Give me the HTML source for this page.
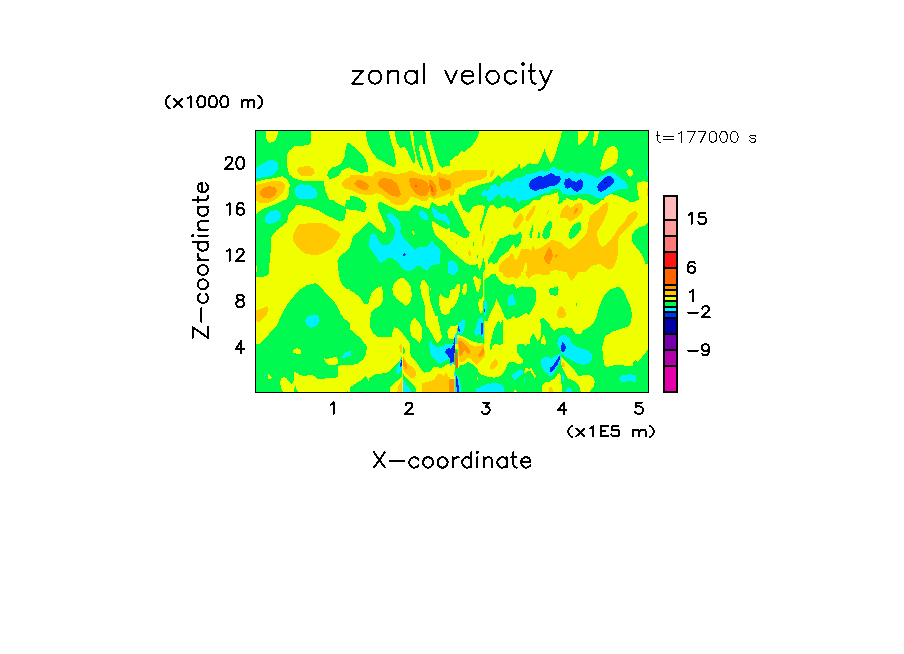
<!DOCTYPE html>
<html><head><meta charset="utf-8"><title>zonal velocity</title>
<style>html,body{margin:0;padding:0;background:#fff;font-family:"Liberation Sans",sans-serif}svg{display:block}</style></head><body>
<svg width="904" height="654" viewBox="0 0 904 654" shape-rendering="crispEdges">
<rect x="0" y="0" width="904" height="654" fill="#fff"/>
<defs>
<clipPath id="c0"><rect x="255.00" y="130.00" width="95.00" height="70.00"/></clipPath>
<clipPath id="c1"><rect x="350.00" y="130.00" width="100.00" height="70.00"/></clipPath>
<clipPath id="c2"><rect x="450.00" y="130.00" width="100.00" height="70.00"/></clipPath>
<clipPath id="c3"><rect x="550.00" y="130.00" width="99.00" height="70.00"/></clipPath>
<clipPath id="c4"><rect x="255.00" y="200.00" width="95.00" height="72.00"/></clipPath>
<clipPath id="c5"><rect x="350.00" y="200.00" width="100.00" height="72.00"/></clipPath>
<clipPath id="c6"><rect x="450.00" y="200.00" width="100.00" height="72.00"/></clipPath>
<clipPath id="c7"><rect x="550.00" y="200.00" width="99.00" height="72.00"/></clipPath>
<clipPath id="c8"><rect x="255.00" y="272.00" width="95.00" height="72.00"/></clipPath>
<clipPath id="c9"><rect x="350.00" y="272.00" width="100.00" height="72.00"/></clipPath>
<clipPath id="c10"><rect x="450.00" y="272.00" width="34.30" height="72.00"/></clipPath>
<clipPath id="c11"><rect x="484.30" y="272.00" width="65.70" height="72.00"/></clipPath>
<clipPath id="c12"><rect x="550.00" y="272.00" width="99.00" height="72.00"/></clipPath>
<clipPath id="c13"><rect x="255.00" y="344.00" width="95.00" height="49.00"/></clipPath>
<clipPath id="c14"><rect x="350.00" y="344.00" width="100.00" height="49.00"/></clipPath>
<clipPath id="c15"><rect x="450.00" y="344.00" width="100.00" height="49.00"/></clipPath>
<clipPath id="c16"><rect x="550.00" y="344.00" width="99.00" height="49.00"/></clipPath>
</defs>
<rect x="255" y="130" width="394" height="263" fill="#00fa50"/>
<g clip-path="url(#c0)">
<rect x="255.00" y="130.00" width="95.00" height="70.00" fill="#00fa50"/>
<polygon fill="#f0ff00" points="265.5,130.2 277.7,130.2 277.7,134.6 276.0,139.1 273.2,142.4 268.8,142.6 266.6,139.6 266.0,134.6"/>
<polygon fill="#f0ff00" points="311.2,130.2 311.2,141.3 309.2,145.1 294.2,146.3 288.7,151.2 286.5,156.8 287.1,166.7 289.3,174.5 294.2,178.3 303.1,180.9 313.1,181.3 323.6,181.1 325.2,189.9 329.6,201.0 350.7,201.0 350.7,166.9 346.2,168.4 341.8,170.6 338.5,175.6 334.1,178.3 329.6,178.7 327.2,175.6 328.0,171.1 331.9,167.3 337.4,166.2 341.3,163.4 344.6,156.8 345.4,150.1 347.3,143.5 350.7,142.4 350.7,130.2"/>
<polygon fill="#f0ff00" points="254.4,182.2 265.5,179.4 276.5,177.8 282.1,176.1 287.1,179.4 289.6,184.4 289.3,193.3 285.4,201.0 254.4,201.0"/>
<polygon fill="#ffc800" points="254.4,185.5 263.3,183.3 272.1,181.1 279.9,181.1 284.3,183.3 285.4,187.7 282.1,193.3 276.5,198.8 272.1,201.0 254.4,201.0"/>
<polygon fill="#ff9600" points="260.5,191.1 264.4,187.7 269.9,186.1 275.4,187.7 277.1,191.1 274.9,195.5 268.8,198.6 263.3,198.2 260.2,194.9"/>
<polygon fill="#ffc800" points="297.0,169.5 299.8,166.7 309.7,166.2 314.2,169.5 314.7,172.8 311.9,176.1 303.1,176.5 298.7,173.9"/>
<polygon fill="#ffc800" points="350.7,177.2 346.2,178.3 342.4,182.2 342.4,185.5 345.1,188.6 350.7,189.9"/>
<polygon fill="#00f0ff" points="254.4,168.9 261.1,164.5 268.8,160.3 273.8,160.3 277.7,163.4 277.9,169.5 274.3,173.9 266.6,177.2 254.4,178.0"/>
<polygon fill="#00f0ff" points="294.8,189.9 296.5,186.1 300.9,184.2 309.7,185.3 315.3,188.8 317.7,193.8 316.4,197.7 311.9,198.8 299.8,198.8 295.9,195.5"/>
</g>
<g clip-path="url(#c1)">
<rect x="350.00" y="130.00" width="100.00" height="70.00" fill="#f0ff00"/>
<polygon fill="#00fa50" points="348.9,143.5 354.4,146.8 361.1,153.4 365.5,159.0 367.7,165.6 367.7,172.2 361.1,172.8 354.4,170.0 348.9,167.8"/>
<polygon fill="#00fa50" points="366.0,130.2 388.7,130.2 390.4,139.1 393.1,147.9 395.4,156.8 395.9,164.5 394.2,167.8 390.9,166.2 384.3,162.3 377.7,159.0 372.1,152.3 368.3,144.6 366.6,138.0"/>
<polygon fill="#00fa50" points="394.8,130.2 410.3,130.2 410.6,136.8 412.5,145.7 414.7,154.5 415.3,163.4 413.1,162.8 409.7,156.8 407.0,150.1 404.2,146.8 400.3,147.9 397.0,143.5 395.4,136.8"/>
<polygon fill="#00fa50" points="413.1,130.2 425.2,130.2 427.4,144.6 430.8,156.8 433.0,165.6 432.7,172.2 431.3,172.8 427.4,161.2 424.1,151.2 421.9,145.7 420.2,144.4 419.1,146.3 419.7,153.4 421.3,161.2 423.0,167.8 422.5,170.0 419.7,165.6 416.9,157.9 415.0,150.1 413.9,141.3"/>
<polygon fill="#00fa50" points="429.9,130.2 450.7,130.2 450.7,165.6 446.2,166.2 441.8,167.8 438.5,163.4 435.7,154.5 433.0,144.6 430.8,136.8"/>
<polygon fill="#00fa50" points="348.9,196.0 356.6,196.6 361.1,199.3 362.2,201.0 348.9,201.0"/>
<polygon fill="#ffc800" points="348.9,175.6 356.6,174.5 363.3,175.6 372.1,176.7 375.4,172.2 379.9,171.1 388.7,172.2 396.5,174.5 400.9,173.4 407.5,172.2 410.3,170.0 415.3,172.2 420.8,174.5 426.3,175.6 429.6,174.5 431.9,176.7 436.3,175.6 437.9,171.7 441.8,173.4 447.3,174.5 450.7,175.0 450.7,192.7 447.3,194.4 441.8,196.6 434.1,199.3 429.6,196.6 426.3,201.6 416.4,198.2 410.3,196.6 408.6,201.0 402.0,204.9 396.5,204.9 389.8,201.6 383.2,195.5 376.5,192.7 372.1,194.9 361.1,194.4 350.0,189.9 348.9,189.7"/>
<polygon fill="#ff9600" points="354.2,183.3 356.6,180.5 361.1,180.0 365.5,182.2 368.8,185.5 368.3,188.8 365.5,190.5 361.1,189.4 356.6,186.6"/>
<polygon fill="#ff9600" points="378.2,183.3 379.9,178.9 384.3,178.0 392.0,179.4 396.5,183.3 399.2,188.8 400.9,194.4 398.7,197.1 393.1,196.0 387.6,193.3 382.1,188.8 379.0,186.6"/>
<polygon fill="#ff9600" points="409.7,178.3 416.4,178.3 421.9,179.4 427.4,182.2 428.5,185.5 429.1,191.1 426.3,195.5 421.9,196.6 417.5,194.9 413.6,191.1 410.3,185.5 409.2,181.1"/>
<polygon fill="#ff9600" points="428.5,179.4 431.3,180.0 435.2,184.4 436.8,189.9 436.3,194.4 433.5,197.1 431.3,194.4 429.6,189.9 428.8,184.4"/>
<polygon fill="#ff6400" points="415.3,185.0 416.9,185.0 416.9,186.6 415.3,186.6"/>
<polygon fill="#ff6400" points="430.2,184.4 432.4,186.6 433.8,191.6 432.4,192.2 430.8,189.4"/>
<polygon fill="#ff9600" points="438.5,177.2 441.8,177.8 447.3,180.0 450.7,180.5 450.7,188.8 446.2,189.9 442.9,191.6 440.2,188.3 438.5,183.3"/>
</g>
<g clip-path="url(#c2)">
<rect x="450.00" y="130.00" width="100.00" height="70.00" fill="#f0ff00"/>
<polygon fill="#00fa50" points="448.9,130.2 479.3,130.2 478.2,135.7 475.4,141.3 471.0,146.3 466.6,150.1 464.4,151.8 461.1,151.2 457.7,155.7 454.4,156.8 451.7,160.1 448.9,159.0"/>
<polygon fill="#00fa50" points="458.8,201.0 459.4,194.4 464.4,195.5 467.7,189.9 474.3,186.6 483.2,183.9 490.9,182.2 494.2,178.9 498.1,175.0 502.0,178.3 506.4,174.5 510.8,171.1 516.4,167.8 519.7,164.0 520.8,169.5 525.2,166.2 529.6,162.8 534.1,164.5 537.9,164.0 540.7,159.0 544.6,149.0 547.3,156.8 550.7,163.4 550.7,201.0"/>
<polygon fill="#00f0ff" points="481.0,194.4 484.3,189.4 487.6,191.1 490.9,185.5 495.4,183.9 498.7,187.7 502.0,183.3 507.5,181.1 510.8,182.2 515.3,178.3 520.8,177.8 526.3,174.5 531.9,173.4 537.4,172.2 540.7,170.0 544.0,171.7 550.7,170.6 550.7,192.2 545.1,193.3 538.5,195.5 534.1,197.1 529.6,198.8 527.4,201.0 516.4,201.0 516.4,196.6 511.9,198.8 507.5,194.9 503.1,198.8 498.7,193.8 494.2,198.8 492.0,201.0 486.5,201.0 486.5,196.0 483.2,196.6"/>
<polygon fill="#0028f0" points="529.1,183.3 531.9,179.4 538.5,176.1 544.0,176.7 550.7,173.4 550.7,185.5 546.2,188.3 540.7,188.8 535.2,191.1 529.6,188.3"/>
<polygon fill="#f0ff00" points="538.5,201.0 541.8,197.1 546.2,194.9 550.7,194.4 550.7,201.0"/>
<polygon fill="#ffc800" points="448.9,174.5 454.4,171.7 464.4,170.0 475.4,169.8 486.5,170.0 487.1,175.6 482.1,179.4 472.1,181.1 464.4,183.3 461.1,186.6 455.5,188.3 453.9,194.4 451.1,196.0 448.9,195.5"/>
<polygon fill="#ffc800" points="490.0,173.4 492.6,170.0 494.0,170.6 493.4,174.5 490.9,177.8 490.0,176.7"/>
<polygon fill="#ff9600" points="448.9,181.1 451.1,182.2 451.3,187.7 448.9,188.8"/>
</g>
<g clip-path="url(#c3)">
<rect x="550.00" y="130.00" width="99.00" height="70.00" fill="#00fa50"/>
<polygon fill="#f0ff00" points="548.9,130.2 562.2,130.2 560.5,138.0 557.7,146.8 555.0,155.7 551.7,162.3 548.9,163.4"/>
<polygon fill="#f0ff00" points="578.2,130.2 588.9,130.2 588.2,134.6 584.3,140.7 579.3,145.1 578.2,144.6"/>
<polygon fill="#f0ff00" points="594.2,130.2 599.0,130.2 598.1,138.0 595.9,144.6 593.7,147.0 592.9,143.5"/>
<polygon fill="#f0ff00" points="607.5,148.5 611.4,146.3 615.3,146.3 617.7,150.1 618.0,156.8 616.9,162.3 611.9,166.7 606.4,169.5 603.1,171.1 600.3,168.9 600.9,163.4 603.1,156.8 605.3,151.2"/>
<polygon fill="#f0ff00" points="626.3,171.7 628.0,169.5 630.8,169.2 633.0,171.7 632.7,175.0 630.8,176.9 628.0,175.6"/>
<polygon fill="#f0ff00" points="637.4,183.3 639.6,181.7 644.0,181.3 648.5,182.2 648.5,201.0 639.6,201.0 637.9,193.3 637.2,187.7"/>
<polygon fill="#ffc800" points="647.1,187.7 648.5,187.7 648.5,195.5 647.1,195.5"/>
<polygon fill="#f0ff00" points="548.9,195.5 554.4,193.3 558.3,192.2 558.8,201.0 548.9,201.0"/>
<polygon fill="#f0ff00" points="564.4,201.0 566.6,198.2 569.4,198.8 571.0,201.0"/>
<polygon fill="#f0ff00" points="575.4,201.0 578.2,198.2 582.1,198.8 583.2,201.0"/>
<polygon fill="#f0ff00" points="603.1,201.0 605.3,196.6 610.3,194.2 615.3,194.9 620.8,197.1 626.3,199.3 627.4,201.0"/>
<polygon fill="#00f0ff" points="548.9,168.9 553.9,166.9 557.7,169.5 562.2,170.0 566.6,173.4 572.1,171.1 576.5,173.9 583.2,172.2 587.6,174.5 593.1,175.6 597.6,178.3 603.1,175.6 609.7,172.2 614.2,172.8 618.6,176.7 623.0,180.0 626.3,183.3 628.0,186.6 627.4,188.8 620.8,189.4 616.4,190.5 611.9,192.7 606.4,196.0 602.0,198.8 596.5,197.7 592.0,194.9 585.4,193.8 577.7,194.4 572.1,195.5 566.6,194.4 562.2,194.4 561.1,189.9 556.6,188.3 548.9,189.9"/>
<polygon fill="#00f0ff" points="646.5,170.6 647.9,170.0 647.9,176.7 646.5,175.6"/>
<polygon fill="#0028f0" points="548.9,173.4 552.2,173.4 555.5,175.6 560.0,175.6 560.8,180.0 558.8,183.3 555.5,185.5 548.9,186.1"/>
<polygon fill="#0028f0" points="564.2,183.3 565.5,179.4 569.4,177.8 572.7,181.1 576.5,181.7 580.4,179.1 583.0,181.1 583.2,185.5 581.0,189.4 576.5,192.2 573.2,189.9 571.0,187.2 567.7,188.8 564.9,187.7"/>
<polygon fill="#0028f0" points="597.0,186.6 599.8,182.2 604.2,178.3 607.5,176.1 610.8,176.1 613.9,179.4 613.6,183.3 609.7,186.6 605.3,189.9 600.9,192.2 598.1,190.5"/>
<polygon fill="#0000aa" points="603.7,182.2 607.0,181.9 605.9,183.3 604.2,183.9"/>
</g>
<g clip-path="url(#c4)">
<rect x="255.00" y="200.00" width="95.00" height="72.00" fill="#f0ff00"/>
<polygon fill="#00fa50" points="254.4,216.6 256.9,213.8 261.1,210.0 268.8,206.6 276.5,203.9 283.2,200.6 284.3,198.9 331.9,198.9 337.4,203.3 345.1,207.2 346.2,198.9 350.7,198.9 350.7,210.0 347.3,208.8 345.7,208.3 345.4,217.7 343.5,220.5 338.5,220.5 331.9,217.7 325.2,214.4 318.6,210.5 309.7,207.2 302.0,205.5 296.5,205.0 292.6,210.0 288.7,214.4 287.1,222.1 283.2,225.4 276.5,230.4 271.6,236.5 270.5,244.2 270.5,253.1 269.4,264.2 268.8,273.0 254.4,273.0"/>
<polygon fill="#00fa50" points="350.7,246.5 345.1,252.0 339.6,257.0 337.4,260.8 337.9,267.5 339.0,273.0 350.7,273.0"/>
<polygon fill="#f0ff00" points="254.4,265.3 256.9,266.4 257.5,273.0 254.4,273.0"/>
<polygon fill="#00f0ff" points="264.9,218.8 266.6,214.4 271.0,211.1 276.5,210.0 280.4,212.2 281.0,216.6 278.8,220.5 273.2,223.2 268.3,223.8 265.5,222.1"/>
<polygon fill="#ffc800" points="292.6,236.5 295.4,229.9 298.7,224.3 309.7,223.2 320.8,223.0 326.3,224.3 331.9,228.2 338.5,231.5 340.9,234.3 338.5,238.7 335.2,244.2 331.9,248.7 325.2,252.0 317.5,255.3 314.2,255.3 305.3,253.7 299.8,249.8 295.4,244.2 293.1,239.8"/>
<polygon fill="#ffc800" points="254.4,198.9 275.4,198.9 272.1,201.7 265.5,203.3 260.0,203.1 256.9,201.1"/>
</g>
<g clip-path="url(#c5)">
<rect x="350.00" y="200.00" width="100.00" height="72.00" fill="#00fa50"/>
<polygon fill="#f0ff00" points="348.9,210.0 356.6,210.5 364.4,212.2 366.6,207.7 365.5,203.3 362.2,198.9 450.7,198.9 450.7,203.3 448.5,203.3 447.3,206.6 444.0,204.4 440.7,206.1 437.4,205.5 434.1,203.3 431.9,202.2 430.2,205.5 429.1,209.4 421.9,206.6 414.2,205.0 411.9,207.7 409.7,210.5 398.7,211.1 392.0,207.7 384.3,203.9 379.9,201.7 377.7,204.4 378.8,210.0 382.1,217.7 385.4,225.4 386.0,232.1 383.2,232.6 377.7,228.8 372.1,223.8 368.8,222.1 365.5,225.4 361.1,229.9 356.6,233.2 352.8,236.5 351.1,244.2 348.9,245.4"/>
<polygon fill="#f0ff00" points="432.4,221.0 437.4,224.3 445.1,228.8 450.7,228.2 450.7,249.8 447.3,246.5 444.0,241.8 440.2,239.8 436.3,236.0 434.1,232.1 432.4,226.5"/>
<polygon fill="#f0ff00" points="411.9,231.5 413.6,231.0 414.7,233.7 413.6,234.8"/>
<polygon fill="#ffc800" points="388.2,198.9 408.6,198.9 407.5,202.2 403.1,205.0 397.6,205.5 392.0,203.3"/>
<polygon fill="#ffc800" points="415.3,198.9 427.4,198.9 426.3,201.5 421.9,200.6 416.4,199.4"/>
<polygon fill="#00f0ff" points="368.8,242.0 370.5,235.4 373.2,233.2 376.5,236.5 378.8,240.9 383.2,245.4 389.8,244.2 393.1,238.7 395.4,233.2 394.8,227.7 390.9,222.1 387.6,217.7 387.1,213.8 390.9,213.1 395.4,216.6 399.8,222.1 400.9,227.7 400.3,232.1 403.1,237.6 407.5,242.0 413.1,247.6 415.3,249.8 418.6,247.0 427.4,246.5 430.8,243.1 431.9,239.8 434.1,244.2 438.5,247.6 440.7,250.9 440.2,257.5 439.6,264.2 434.1,264.7 429.6,266.4 427.4,270.8 424.1,269.1 420.8,266.4 416.4,266.4 414.2,269.1 409.7,271.3 405.3,270.2 400.9,266.4 397.6,261.9 393.1,258.6 388.7,257.5 384.3,260.8 381.0,263.6 378.8,261.9 375.4,255.3 371.0,249.8 369.0,246.5"/>
<polygon fill="#00f0ff" points="419.1,213.3 420.8,210.0 424.1,211.1 427.4,215.5 428.0,219.9 425.2,220.5 421.9,218.3 419.7,215.5"/>
<polygon fill="#00f0ff" points="432.4,207.2 436.3,210.0 440.7,214.4 445.1,213.3 448.5,218.8 450.7,221.0 450.7,226.0 447.3,224.3 444.0,221.0 438.5,219.9 434.1,216.6 432.4,212.2"/>
<polygon fill="#00f0ff" points="448.2,261.9 450.7,260.8 450.7,273.0 448.2,273.0"/>
<polygon fill="#0028f0" points="402.9,254.2 404.2,252.9 405.9,254.2 405.1,256.4 403.7,256.6"/>
</g>
<g clip-path="url(#c6)">
<rect x="450.00" y="200.00" width="100.00" height="72.00" fill="#f0ff00"/>
<polygon fill="#00fa50" points="448.9,200.6 451.7,201.1 455.5,207.7 459.4,214.4 462.2,219.9 463.8,224.9 466.6,229.0 469.7,232.3 469.0,236.5 464.9,238.2 459.4,235.6 453.9,232.3 448.9,231.5"/>
<polygon fill="#00fa50" points="458.8,198.9 534.1,198.9 530.8,203.3 525.2,206.6 518.6,210.5 514.2,212.7 511.9,207.7 507.5,207.2 504.2,205.0 500.9,207.7 497.6,208.8 493.1,204.4 489.8,205.5 487.6,210.0 485.4,216.6 483.2,223.2 481.0,229.9 479.9,232.6 479.6,227.7 481.5,221.0 483.7,214.4 484.8,206.6 482.6,205.0 476.5,205.5 472.1,207.7 469.4,212.7 466.6,212.2 463.3,209.4 461.1,204.4"/>
<polygon fill="#00fa50" points="488.2,259.7 490.4,255.3 493.1,252.0 495.4,247.6 497.6,242.0 499.8,238.7 505.3,237.1 509.7,234.3 511.9,235.4 515.3,235.4 518.6,232.6 521.3,232.1 521.9,236.5 520.8,242.0 518.0,247.0 515.3,247.6 513.6,243.7 511.4,246.5 508.6,250.9 504.2,254.2 499.8,257.5 497.6,261.9 494.2,264.2 490.9,261.9 488.7,264.2 487.6,261.9"/>
<polygon fill="#00fa50" points="529.4,234.3 530.8,229.9 532.4,224.9 533.2,226.5 532.4,233.2 531.3,238.7 529.9,238.2"/>
<polygon fill="#00fa50" points="537.4,237.6 538.3,232.1 539.6,233.2 539.8,237.6 538.5,238.2"/>
<polygon fill="#00fa50" points="542.4,234.3 544.0,228.8 547.3,223.2 550.7,219.9 550.7,233.2 548.5,237.6 545.1,239.3 542.7,237.6"/>
<polygon fill="#00fa50" points="448.9,248.7 453.3,252.5 458.8,257.5 463.3,260.8 467.7,264.2 473.2,265.3 477.7,264.2 479.0,270.8 481.0,267.5 483.2,257.5 484.3,258.6 484.8,266.4 484.3,273.0 448.9,273.0"/>
<polygon fill="#00fa50" points="473.0,242.0 474.1,242.0 474.1,245.9 473.0,245.9"/>
<polygon fill="#00fa50" points="477.1,254.8 478.2,254.8 478.2,258.1 477.1,258.1"/>
<polygon fill="#00f0ff" points="448.9,260.8 452.2,260.3 456.1,263.1 458.0,267.5 457.7,273.0 448.9,273.0"/>
<polygon fill="#00f0ff" points="487.1,198.9 490.9,198.9 490.4,201.3 488.2,201.7"/>
<polygon fill="#00f0ff" points="517.3,198.9 520.8,198.9 520.2,202.8 517.7,203.3"/>
<polygon fill="#ffc800" points="513.6,222.1 516.4,217.7 520.2,213.3 523.0,214.9 523.6,218.8 520.8,223.2 517.5,228.2 515.3,229.3 513.3,226.5"/>
<polygon fill="#ffc800" points="525.8,216.6 529.6,211.1 534.1,205.5 535.7,206.1 534.6,211.1 531.3,216.6 528.0,221.6 525.8,220.5"/>
<polygon fill="#ffc800" points="546.2,214.4 548.5,210.0 549.0,211.1 547.3,214.9"/>
<polygon fill="#ffc800" points="498.7,266.4 502.0,261.9 507.5,257.5 511.9,253.1 513.6,255.3 515.3,259.7 517.5,258.6 519.7,253.1 521.9,248.7 527.4,248.7 530.8,250.9 533.0,245.4 535.2,249.8 538.5,248.7 542.9,246.5 547.3,243.1 550.7,240.9 550.7,273.0 526.3,273.0 526.9,266.4 526.3,261.4 524.1,265.3 523.0,273.0 499.8,273.0 498.5,269.7"/>
<polygon fill="#ff9600" points="544.0,257.5 546.2,252.0 549.0,247.6 550.7,246.5 550.7,264.2 547.3,264.2 544.9,261.4"/>
<polygon fill="#ffc800" points="481.5,244.2 483.2,236.5 484.8,233.2 485.2,237.6 483.7,244.2 482.3,247.6"/>
<polygon fill="#ffc800" points="468.3,252.0 469.7,249.2 471.0,253.1 470.5,256.4 468.8,255.9"/>
<polygon fill="#ffc800" points="456.1,241.5 457.5,242.6 457.2,244.8 456.1,244.2"/>
<polygon fill="#ffc800" points="491.2,242.6 492.9,240.9 492.6,243.7"/>
</g>
<g clip-path="url(#c7)">
<rect x="550.00" y="200.00" width="99.00" height="72.00" fill="#f0ff00"/>
<polygon fill="#00fa50" points="557.7,203.3 559.4,198.9 564.4,198.9 562.2,202.2 559.4,203.9"/>
<polygon fill="#00fa50" points="571.0,198.9 575.4,198.9 573.8,200.9"/>
<polygon fill="#00fa50" points="584.8,198.9 602.0,198.9 598.7,202.8 594.2,205.0 589.8,203.3"/>
<polygon fill="#00fa50" points="626.3,198.9 638.5,198.9 635.2,201.7 629.6,201.7"/>
<polygon fill="#00fa50" points="548.9,219.9 551.7,222.1 552.0,226.5 550.6,230.4 548.9,231.0"/>
<polygon fill="#00fa50" points="569.0,233.2 570.5,228.8 573.8,224.9 578.2,222.1 581.0,222.7 581.0,228.8 578.2,233.2 574.3,237.6 571.0,238.9 569.0,237.6"/>
<polygon fill="#00fa50" points="631.9,235.4 634.1,231.5 638.5,227.7 644.0,226.0 649.0,222.1 649.0,264.2 645.1,263.6 643.5,257.5 639.6,251.4 634.6,245.4 631.6,240.9"/>
<polygon fill="#ffc800" points="548.9,239.3 554.4,240.4 560.0,242.0 565.5,246.5 568.8,249.2 572.1,247.6 577.7,243.1 583.2,237.6 586.5,233.2 588.2,226.5 588.7,219.9 590.4,215.5 594.2,212.2 598.7,209.4 602.5,205.0 606.4,202.2 608.6,203.3 608.1,208.8 605.9,215.5 603.1,222.1 599.8,227.7 597.0,232.1 597.6,237.6 599.2,243.1 602.0,247.0 605.3,245.4 609.7,240.9 614.2,235.4 616.4,231.0 620.8,225.4 625.2,221.0 628.0,215.5 631.9,212.2 635.7,211.1 637.9,213.8 636.3,218.3 631.9,223.2 627.4,227.7 623.0,232.1 619.7,235.4 618.0,240.9 618.4,248.7 617.5,256.4 615.3,264.2 611.9,268.6 608.6,269.7 604.2,266.9 600.9,264.2 594.2,264.7 589.8,267.5 586.5,271.3 585.4,273.0 565.5,273.0 561.1,270.8 554.4,270.2 548.9,271.9"/>
<polygon fill="#ffc800" points="560.2,215.5 561.6,210.5 565.5,206.1 567.1,204.4 570.5,207.7 573.2,206.1 577.7,202.8 581.5,203.3 583.2,207.2 582.1,212.2 577.7,216.6 573.8,219.9 569.4,221.6 567.1,218.3 563.3,217.7 560.5,217.7"/>
<polygon fill="#ff9600" points="574.1,212.2 575.7,208.8 577.7,208.0 577.9,210.0 576.0,212.7 574.6,213.8"/>
<polygon fill="#ff9600" points="548.9,247.6 551.7,250.3 552.8,255.3 551.7,260.3 548.9,263.1"/>
<polygon fill="#ff9600" points="555.0,255.9 556.6,254.0 558.0,254.8 557.2,257.0 555.5,257.7"/>
</g>
<g clip-path="url(#c8)">
<rect x="255.00" y="272.00" width="95.00" height="72.00" fill="#f0ff00"/>
<polygon fill="#00fa50" points="254.4,270.9 269.4,270.9 268.3,274.8 263.3,277.0 257.2,277.5 254.4,276.4"/>
<polygon fill="#00fa50" points="339.0,270.9 350.7,270.9 350.7,288.6 346.2,288.6 342.4,284.7 339.8,279.7"/>
<polygon fill="#00fa50" points="258.8,345.0 261.1,342.2 266.6,337.3 272.1,330.1 277.1,325.1 280.4,317.4 284.3,309.6 287.6,304.1 294.2,295.8 300.9,289.1 306.4,285.3 315.3,283.3 318.6,284.7 323.0,289.7 327.4,295.2 333.0,300.2 337.4,306.3 340.7,314.0 344.0,318.5 350.7,323.4 350.7,345.0"/>
<polygon fill="#00f0ff" points="305.1,320.7 307.0,316.8 310.8,315.7 314.7,314.3 318.0,315.7 319.7,320.1 318.0,324.5 313.6,327.3 310.3,327.9 307.0,325.1"/>
<polygon fill="#ffc800" points="254.4,310.7 261.1,309.1 266.6,306.1 268.8,309.1 266.6,314.6 262.2,319.6 259.4,321.8 254.4,321.2"/>
</g>
<g clip-path="url(#c9)">
<rect x="350.00" y="272.00" width="100.00" height="72.00" fill="#00fa50"/>
<polygon fill="#f0ff00" points="348.9,289.7 354.4,293.0 360.0,297.4 363.8,303.5 368.3,303.5 369.9,297.4 372.1,291.9 376.5,288.0 381.5,286.2 383.2,291.9 383.2,299.7 379.9,306.3 374.3,309.1 371.0,312.9 370.1,319.6 370.5,328.4 373.2,333.4 377.7,336.7 386.5,337.3 392.0,337.3 392.6,330.6 394.2,327.3 397.6,327.9 402.0,332.8 406.4,338.4 409.7,342.8 410.8,345.0 365.5,345.0 361.1,338.4 355.5,333.9 351.1,330.1 348.9,328.4"/>
<polygon fill="#f0ff00" points="392.3,288.6 394.2,283.1 398.7,278.6 403.1,278.1 407.5,282.0 410.8,286.4 411.7,293.0 411.4,299.7 408.6,304.1 405.3,305.7 400.9,301.9 396.5,298.5 393.1,294.1"/>
<polygon fill="#f0ff00" points="420.2,286.4 421.3,280.8 424.1,279.2 426.3,283.1 428.5,286.4 429.1,294.1 430.8,303.0 433.0,309.6 435.7,316.2 437.4,315.1 438.5,321.8 440.2,329.5 441.8,336.2 441.3,339.5 437.4,342.8 435.2,340.6 431.9,333.9 428.5,328.4 425.8,325.1 425.2,316.2 425.2,307.4 423.6,300.8 421.3,294.1"/>
<polygon fill="#f0ff00" points="439.0,296.3 440.7,294.1 444.0,297.4 448.5,298.0 450.7,290.8 450.7,310.7 448.5,314.0 445.1,315.1 441.3,312.9 439.6,307.4"/>
<polygon fill="#f0ff00" points="410.3,324.0 411.9,320.7 414.7,317.4 417.5,320.7 420.8,325.1 422.5,330.6 421.9,338.4 419.7,342.8 416.4,340.0 413.1,337.3 410.6,335.1"/>
<polygon fill="#f0ff00" points="447.3,331.7 449.0,328.4 450.7,327.9 450.7,339.5 448.5,338.4"/>
<polygon fill="#f0ff00" points="429.6,288.6 430.8,288.0 430.8,289.7 429.6,289.9"/>
<polygon fill="#00f0ff" points="447.9,270.9 450.7,270.9 450.7,273.1 448.5,272.9"/>
<polygon fill="#00f0ff" points="429.1,342.8 430.8,341.1 432.4,342.8 431.9,345.0 429.4,345.0"/>
</g>
<g clip-path="url(#c10)">
<rect x="450.00" y="272.00" width="34.30" height="72.00" fill="#00fa50"/>
<polygon fill="#f0ff00" points="448.9,290.3 455.0,288.6 456.1,285.3 459.4,283.1 460.0,288.6 458.8,296.3 456.6,303.0 453.3,307.4 448.9,309.6"/>
<polygon fill="#f0ff00" points="462.2,290.8 463.3,285.3 466.0,282.2 467.1,286.4 466.6,291.9 464.4,295.2 462.7,294.1"/>
<polygon fill="#f0ff00" points="473.2,278.6 473.8,275.3 476.5,277.0 479.0,279.7 479.9,277.5 481.0,280.8 480.4,286.4 478.2,292.5 476.5,290.8 474.9,285.3"/>
<polygon fill="#f0ff00" points="478.2,303.0 479.3,298.5 482.1,299.7 483.0,294.1 483.2,288.6 483.5,270.9 485.4,270.9 485.4,298.5 483.2,301.9 483.0,310.7 481.0,313.5 479.0,310.2"/>
<polygon fill="#f0ff00" points="448.9,326.2 454.4,326.2 457.7,325.1 457.2,331.7 454.4,338.4 452.2,339.5 448.9,338.4"/>
<polygon fill="#f0ff00" points="457.2,335.1 461.1,335.6 466.6,338.4 472.1,341.1 477.7,342.8 485.4,343.9 485.4,345.0 457.2,345.0"/>
<polygon fill="#ffc800" points="457.2,338.4 460.0,337.3 464.4,339.5 468.8,342.8 469.9,345.0 457.2,345.0"/>
<polygon fill="#ff9600" points="458.3,341.1 462.2,341.1 464.4,345.0 458.3,345.0"/>
<polygon fill="#00f0ff" points="457.7,324.0 461.1,321.8 464.4,318.5 464.9,325.1 463.3,331.7 460.5,335.1 458.3,332.3"/>
<polygon fill="#00f0ff" points="474.3,332.8 476.5,325.1 478.8,318.5 482.1,316.8 483.2,320.7 484.1,338.4 482.1,336.2 478.8,333.9 476.0,336.2"/>
<polygon fill="#00f0ff" points="448.9,270.9 457.7,270.9 454.4,274.8 452.2,275.3 448.9,273.7"/>
<polygon fill="#00f0ff" points="453.9,339.5 455.5,333.9 457.2,332.3 456.9,345.0 453.9,345.0"/>
<polygon fill="#0028f0" points="458.0,326.2 459.1,326.2 460.0,331.7 458.6,331.7"/>
<polygon fill="#0028f0" points="481.0,323.4 482.6,322.9 483.0,333.9 481.5,335.1"/>
<polygon fill="#0028f0" points="453.9,338.4 455.0,337.8 454.6,345.0 453.3,345.0"/>
</g>
<g clip-path="url(#c11)">
<rect x="484.30" y="272.00" width="65.70" height="72.00" fill="#f0ff00"/>
<polygon fill="#00fa50" points="483.2,280.8 487.6,277.5 491.5,273.7 495.4,273.7 497.6,277.5 500.9,281.4 503.1,284.2 509.7,284.7 514.2,284.2 516.4,288.6 521.9,286.4 527.4,286.9 531.9,286.9 535.7,290.3 536.3,296.3 535.2,304.1 531.9,310.7 528.5,315.1 526.3,312.9 524.1,314.0 520.8,316.2 516.4,318.5 513.6,316.2 510.3,319.0 507.5,319.6 504.2,316.2 502.0,310.7 499.8,305.2 496.5,298.5 494.8,304.1 492.0,309.6 489.3,315.1 487.6,320.7 483.2,320.7"/>
<polygon fill="#00fa50" points="490.9,345.0 491.5,339.5 493.1,331.7 496.5,324.0 498.7,320.7 500.3,324.0 503.1,318.5 503.1,345.0"/>
<polygon fill="#00fa50" points="529.6,345.0 530.2,338.4 533.0,333.4 535.2,336.2 537.4,340.6 540.2,338.4 541.3,333.9 540.7,325.1 540.2,319.6 542.9,317.9 546.2,320.7 550.7,325.1 550.7,345.0 546.2,345.0 545.1,337.3 543.5,334.5 541.3,339.5 540.7,345.0"/>
<polygon fill="#00fa50" points="549.0,289.1 550.7,288.6 550.7,293.0 549.0,292.5"/>
<polygon fill="#00f0ff" points="508.1,300.8 509.7,295.8 512.5,293.9 514.2,297.4 515.8,303.5 515.3,305.7 512.5,304.6 509.7,306.8 508.4,304.6"/>
<polygon fill="#ffc800" points="502.0,270.9 521.9,270.9 520.8,275.3 516.4,279.2 513.1,276.4 508.6,278.1 503.1,275.3"/>
<polygon fill="#ffc800" points="525.2,270.9 550.7,270.9 550.7,274.2 544.0,275.3 538.5,273.7 531.9,275.3 528.5,278.6 525.8,275.3"/>
</g>
<g clip-path="url(#c12)">
<rect x="550.00" y="272.00" width="99.00" height="72.00" fill="#f0ff00"/>
<polygon fill="#00fa50" points="548.9,288.6 554.4,287.5 557.7,286.2 558.6,289.7 557.7,295.2 555.0,295.8 548.9,294.1"/>
<polygon fill="#00fa50" points="548.9,326.2 554.4,330.6 557.7,328.4 566.6,327.3 572.1,328.4 575.4,333.9 579.9,334.5 583.2,330.6 588.7,327.3 593.1,324.0 596.5,317.4 598.7,308.5 602.0,299.7 605.3,294.1 610.8,289.1 616.4,287.3 620.2,287.5 624.1,291.9 627.4,299.7 630.8,307.4 631.9,314.0 631.3,320.7 629.1,326.2 621.9,328.4 615.3,330.6 609.7,333.4 605.3,336.2 603.7,340.6 603.1,345.0 548.9,345.0"/>
<polygon fill="#00fa50" points="576.0,303.0 577.0,303.0 577.0,305.7 576.0,305.7"/>
<polygon fill="#00f0ff" points="557.2,345.0 557.7,339.5 560.5,335.6 565.5,335.1 569.9,338.4 571.6,342.8 571.6,345.0"/>
<polygon fill="#0028f0" points="561.9,342.2 564.4,343.3 564.9,345.0 561.9,345.0"/>
<polygon fill="#ffc800" points="566.6,270.9 579.3,270.9 575.4,276.4 571.6,281.4 568.8,277.5"/>
<polygon fill="#ffc800" points="557.2,311.8 558.8,308.0 561.1,306.1 564.4,309.1 566.0,312.9 565.5,316.2 562.2,318.5 558.8,317.9 557.2,315.7"/>
</g>
<g clip-path="url(#c13)">
<rect x="255.00" y="344.00" width="95.00" height="49.00" fill="#00fa50"/>
<polygon fill="#f0ff00" points="254.4,328.9 272.1,328.9 268.8,335.5 263.3,340.5 257.7,343.3 254.4,346.0"/>
<polygon fill="#f0ff00" points="292.9,349.9 295.4,348.6 298.1,348.3 301.4,351.0 300.9,353.5 296.5,353.8 293.1,352.7"/>
<polygon fill="#f0ff00" points="324.1,358.2 327.4,359.0 331.9,357.7 336.3,357.1 337.9,359.3 337.9,364.3 334.1,364.8 328.5,364.5 325.2,362.1"/>
<polygon fill="#f0ff00" points="294.2,371.5 298.7,374.2 303.1,375.9 308.6,375.4 313.1,375.4 317.5,378.7 323.0,378.7 329.6,378.1 336.3,377.6 337.9,376.5 338.5,366.5 341.8,364.8 350.7,364.8 350.7,393.1 347.3,393.1 348.5,388.6 346.2,393.1 298.1,393.1 296.5,388.6 294.8,384.2 294.2,393.1 283.2,393.1 281.5,388.6 280.1,383.1 281.0,378.7 283.2,377.0 286.5,378.1 289.3,382.0 291.5,384.2 293.7,380.9"/>
<polygon fill="#f0ff00" points="267.9,374.2 269.9,374.8 271.9,377.6 270.5,378.7 268.3,378.7"/>
<polygon fill="#00f0ff" points="341.8,357.7 344.0,353.8 347.3,351.6 350.7,351.0 350.7,355.4 346.2,357.1 343.5,357.9"/>
<polygon fill="#00f0ff" points="264.2,375.4 266.0,373.1 266.4,375.4 264.9,376.2"/>
</g>
<g clip-path="url(#c14)">
<rect x="350.00" y="344.00" width="100.00" height="49.00" fill="#f0ff00"/>
<polygon fill="#00fa50" points="348.9,328.9 353.3,333.3 360.0,335.5 364.4,340.0 366.6,346.6 366.4,353.2 363.3,359.3 357.7,363.7 352.2,364.8 348.9,364.8"/>
<polygon fill="#00fa50" points="371.0,328.9 392.0,328.9 391.8,337.2 383.2,337.2 377.1,336.1 373.2,332.8"/>
<polygon fill="#00fa50" points="400.3,328.9 410.3,328.9 411.9,334.4 416.4,338.8 419.7,342.2 421.9,336.6 423.0,328.9 428.5,328.9 431.9,334.4 435.2,341.6 438.5,340.0 441.8,338.8 440.7,328.9 447.3,328.9 447.9,336.6 450.7,338.8 450.7,363.2 447.3,364.3 444.0,366.5 440.7,368.2 437.4,366.5 433.0,367.6 429.6,372.0 424.1,372.6 420.8,368.7 416.4,362.1 411.9,357.7 409.7,352.1 409.7,343.3 406.4,337.7 403.1,333.3"/>
<polygon fill="#00fa50" points="348.9,388.1 356.6,383.1 363.3,378.7 365.5,375.9 367.5,378.7 367.7,382.5 369.9,377.6 375.4,374.2 385.4,373.1 389.8,370.9 394.2,366.5 398.7,362.1 401.4,357.7 402.9,354.9 402.9,375.4 398.7,379.8 394.2,383.1 390.4,387.5 389.8,393.1 348.9,393.1"/>
<polygon fill="#00fa50" points="403.3,374.2 406.4,377.6 410.8,382.0 415.3,386.4 416.4,393.1 403.3,393.1"/>
<polygon fill="#00fa50" points="402.9,347.1 404.2,347.7 405.3,352.1 404.2,353.8 402.9,353.8"/>
<polygon fill="#00f0ff" points="395.9,371.5 397.6,366.5 399.8,362.1 401.8,358.2 402.5,363.2 402.0,368.7 399.8,372.6 397.6,374.2"/>
<polygon fill="#0028f0" points="400.0,364.3 401.4,359.9 402.2,362.1 401.8,366.0 400.3,367.1"/>
<polygon fill="#00f0ff" points="403.3,378.7 405.3,383.1 409.7,388.6 411.9,393.1 403.3,393.1"/>
<polygon fill="#00f0ff" points="429.1,344.4 430.8,341.1 434.1,345.5 438.5,347.7 444.0,345.5 447.3,343.3 450.7,342.2 450.7,358.8 446.2,359.9 440.7,363.7 437.4,362.1 433.0,357.7 430.2,352.1"/>
<polygon fill="#0028f0" points="445.1,352.1 446.8,348.8 450.7,347.7 450.7,358.8 448.5,356.5"/>
<polygon fill="#00f0ff" points="348.9,351.0 350.9,351.0 350.9,356.0 348.9,356.0"/>
<polygon fill="#ffc800" points="403.1,355.4 405.3,359.9 408.6,364.3 413.1,367.6 416.4,372.0 415.3,377.6 411.9,378.7 407.5,375.4 404.2,372.0 403.1,368.7"/>
<polygon fill="#ff9600" points="403.1,356.5 404.8,361.0 407.0,365.4 407.5,369.3 405.3,368.7 403.3,365.4"/>
<polygon fill="#ffc800" points="399.2,346.6 400.7,343.3 402.0,346.6 402.2,353.2 400.3,352.1"/>
<polygon fill="#ffc800" points="397.0,393.1 398.7,385.3 400.9,382.0 402.5,378.7 402.9,393.1"/>
<polygon fill="#ffc800" points="421.9,393.1 422.5,383.1 427.4,382.0 434.1,379.8 437.4,374.2 440.7,373.7 444.0,376.5 446.2,372.0 448.5,376.5 450.7,377.6 450.7,393.1"/>
<polygon fill="#ff9600" points="448.8,393.1 449.0,380.3 450.7,379.2 450.7,393.1"/>
</g>
<g clip-path="url(#c15)">
<rect x="450.00" y="344.00" width="100.00" height="49.00" fill="#00fa50"/>
<polygon fill="#f0ff00" points="457.7,334.4 461.1,336.6 466.6,337.7 469.9,340.5 476.5,342.2 483.2,341.1 483.7,328.9 502.5,328.9 539.6,328.9 537.4,334.4 538.5,339.4 536.3,337.7 533.5,333.3 531.3,335.5 529.6,340.0 526.9,344.4 525.2,346.6 523.6,343.8 518.6,343.1 516.9,346.6 517.1,352.1 519.1,355.4 522.5,358.8 522.5,363.2 518.6,364.3 514.2,362.1 509.7,361.5 507.5,364.3 505.3,369.8 503.1,374.2 498.7,376.5 494.2,377.6 488.7,377.0 483.2,375.4 478.8,373.1 477.7,368.7 473.8,365.4 471.0,363.2 467.7,362.1 464.4,364.3 460.0,365.4 458.3,368.2 457.7,358.8 458.3,341.1"/>
<polygon fill="#f0ff00" points="448.9,328.9 457.7,328.9 456.6,332.2 454.4,336.6 452.2,338.8 448.9,338.3"/>
<polygon fill="#00f0ff" points="448.9,338.3 452.2,338.8 454.4,336.6 455.0,343.3 454.4,357.7 453.3,364.3 448.9,369.8"/>
<polygon fill="#0028f0" points="448.9,349.9 451.7,347.7 454.2,343.3 454.6,352.1 453.9,362.1 448.9,363.2"/>
<polygon fill="#f0ff00" points="448.9,368.2 453.3,363.2 455.1,366.5 455.1,393.1 448.9,393.1"/>
<polygon fill="#ff9600" points="448.9,379.8 451.1,378.7 453.8,379.0 453.8,393.1 448.9,393.1"/>
<polygon fill="#ffc800" points="453.8,379.0 455.1,379.0 455.1,393.1 453.8,393.1"/>
<polygon fill="#f0ff00" points="454.4,336.6 456.6,332.2 457.7,334.4 458.3,341.1 457.7,349.9 455.5,348.8 455.0,343.3"/>
<polygon fill="#ff6400" points="455.3,349.9 456.6,352.1 457.7,358.8 457.5,367.6 456.1,368.7 455.3,363.2"/>
<polygon fill="#00f0ff" points="454.4,372.0 455.5,374.2 456.1,383.1 457.2,393.1 455.0,393.1"/>
<polygon fill="#00f0ff" points="456.9,374.2 458.8,377.6 460.5,384.2 460.5,393.1 459.4,393.1 458.3,383.1"/>
<polygon fill="#0028f0" points="455.5,374.2 456.9,376.5 458.3,383.1 459.4,393.1 457.2,393.1 456.1,383.1"/>
<polygon fill="#00f0ff" points="460.0,328.9 464.9,328.9 463.3,332.8 460.5,334.4 459.4,331.7"/>
<polygon fill="#00f0ff" points="473.8,334.4 475.4,331.7 478.8,331.1 481.5,334.4 481.9,328.9 483.7,328.9 483.7,338.8 482.1,336.6 478.8,333.9 475.4,336.1"/>
<polygon fill="#0028f0" points="457.7,328.9 460.0,328.9 459.4,331.7 458.0,332.2"/>
<polygon fill="#0028f0" points="481.5,328.9 483.2,328.9 483.2,335.0 481.9,334.4"/>
<polygon fill="#ffc800" points="458.3,338.8 462.2,340.0 466.6,341.1 469.9,344.4 475.4,346.6 481.0,345.5 483.7,343.3 484.5,349.9 484.8,356.5 482.1,359.9 478.8,363.2 476.5,365.4 473.8,362.1 471.0,358.8 468.3,357.7 464.4,361.0 461.1,362.1 458.8,359.9 458.0,352.1"/>
<polygon fill="#ff9600" points="459.1,342.2 462.2,342.2 465.5,344.9 469.4,349.4 469.9,353.8 466.6,352.1 464.4,349.9 462.2,354.3 459.7,356.5 458.8,349.9"/>
<polygon fill="#ff9600" points="478.2,355.4 481.0,351.0 483.2,347.1 484.1,351.0 483.2,354.9 479.9,357.9"/>
<polygon fill="#ffc800" points="490.0,365.4 492.0,362.1 495.4,359.3 497.8,361.5 497.6,365.4 494.2,368.2 491.5,369.8 490.0,368.2"/>
<polygon fill="#00f0ff" points="476.0,393.1 476.3,387.5 478.8,388.1 483.2,385.3 488.7,383.7 496.5,383.1 502.0,384.8 504.0,387.5 504.0,393.1"/>
<polygon fill="#00f0ff" points="511.9,375.4 514.7,372.6 519.7,369.8 522.5,370.4 522.5,374.2 518.6,376.5 515.3,380.3 513.3,378.7"/>
<polygon fill="#00f0ff" points="540.9,359.9 544.0,357.1 550.7,356.5 550.7,377.0 547.3,374.2 543.5,369.8 541.3,365.4"/>
<polygon fill="#f0ff00" points="541.3,337.2 544.0,333.9 545.7,337.7 545.7,342.2 544.0,345.5 542.4,342.2"/>
<polygon fill="#f0ff00" points="523.9,372.6 525.8,367.6 528.5,368.7 531.9,368.2 534.1,373.1 536.1,376.5 534.6,378.1 532.4,374.2 530.2,370.9 527.4,371.5 525.2,373.1"/>
<polygon fill="#f0ff00" points="541.8,393.1 542.4,385.3 544.6,382.5 550.7,382.0 550.7,393.1"/>
<polygon fill="#ffc800" points="548.5,393.1 549.0,387.5 550.7,387.0 550.7,393.1"/>
<polygon fill="#00f0ff" points="523.9,378.7 525.0,377.6 525.2,383.1 524.1,383.1"/>
<polygon fill="#f0ff00" points="476.8,377.6 477.9,377.0 477.9,379.8 476.8,379.8"/>
<polygon fill="#f0ff00" points="514.2,390.3 516.4,390.3 516.9,393.1 514.2,393.1"/>
</g>
<g clip-path="url(#c16)">
<rect x="550.00" y="344.00" width="99.00" height="49.00" fill="#00fa50"/>
<polygon fill="#f0ff00" points="573.8,328.9 583.2,328.9 582.1,332.8 578.8,335.0 576.0,333.9"/>
<polygon fill="#f0ff00" points="603.1,341.1 604.8,336.6 609.7,332.8 615.3,328.9 649.0,328.9 649.0,347.7 645.1,353.2 640.7,358.8 637.4,362.1 635.2,359.9 633.0,362.1 632.7,366.5 627.4,366.0 618.6,364.8 611.9,365.6 606.4,367.1 603.7,364.3 603.3,355.4 602.2,348.8"/>
<polygon fill="#f0ff00" points="561.1,356.5 564.4,359.9 568.8,364.3 573.2,368.7 576.5,373.1 578.2,375.9 583.2,375.4 588.7,374.8 593.1,377.0 594.8,381.4 593.7,386.4 590.9,390.3 589.8,393.1 581.0,393.1 579.9,387.5 577.1,383.1 572.1,379.8 567.7,378.7 565.5,374.2 562.7,368.7 561.1,363.2"/>
<polygon fill="#ffc800" points="561.6,361.0 563.8,362.6 565.5,366.5 563.3,367.6 561.6,365.4"/>
<polygon fill="#f0ff00" points="548.9,382.0 554.4,378.7 557.7,374.2 560.0,372.6 561.1,377.6 561.6,385.3 562.7,393.1 548.9,393.1"/>
<polygon fill="#ffc800" points="548.9,386.4 552.2,387.5 553.9,393.1 548.9,393.1"/>
<polygon fill="#00f0ff" points="557.2,341.1 558.3,337.2 560.5,335.0 565.5,335.5 569.4,338.3 571.6,343.3 576.5,346.6 583.2,348.8 587.6,350.5 591.5,354.3 592.0,358.8 589.8,362.6 584.3,364.8 579.9,364.3 575.4,362.1 569.9,359.3 565.5,356.5 562.2,353.8 559.4,353.8 554.4,356.5 548.9,359.9 548.9,377.6 553.3,374.2 556.6,368.7 560.5,361.0 560.8,354.3 561.1,351.0 557.7,345.5"/>
<polygon fill="#0028f0" points="561.1,348.8 561.6,344.4 562.7,341.6 564.9,343.8 566.0,347.7 564.9,351.0 562.7,351.9 561.1,351.0"/>
<polygon fill="#0028f0" points="548.9,368.7 553.3,365.4 556.6,359.9 560.0,354.9 560.2,358.8 557.7,364.3 554.4,368.7 551.7,371.5 548.9,372.0"/>
<polygon fill="#00f0ff" points="619.1,378.7 621.9,375.4 627.4,374.8 630.8,374.0 635.7,375.9 636.1,382.0 631.9,381.4 627.4,380.9 624.1,382.5 620.8,381.4"/>
<polygon fill="#00f0ff" points="566.0,393.1 566.6,389.2 569.4,387.0 571.6,389.7 572.1,393.1"/>
<polygon fill="#00f0ff" points="561.6,374.2 563.3,374.2 564.2,380.9 562.7,382.0 561.6,378.7"/>
</g>
<polygon fill="#00fa50" points="490.5,343.5 501.0,343.5 501.0,345.0 499.0,345.2 497.5,343.8 494.5,343.8 492.5,346.0 491.0,350.0 489.8,349.5 490.3,344.0"/>
<polygon fill="#00f0ff" points="484.3,301.0 486.0,300.5 487.2,304.0 486.5,310.0 485.5,315.0 484.3,316.0"/>
<polygon fill="#0028f0" points="483.8,308.5 485.3,308.5 485.3,312.0 483.8,312.0"/>
<polygon fill="#f0ff00" points="402.2,355.0 403.0,355.0 403.0,392.0 402.2,392.0"/>
<polygon fill="#0028f0" points="453.8,338.0 455.2,338.0 454.8,352.0 453.4,352.0"/>
<rect x="255.5" y="130.5" width="393" height="262" fill="none" stroke="#000" stroke-width="1"/>
<rect x="663" y="195" width="15" height="198" fill="#000"/>
<rect x="665" y="197.0" width="11" height="22.0" fill="#ffb9b9"/>
<rect x="665" y="221.0" width="11" height="14.0" fill="#ff9b9b"/>
<rect x="665" y="237.0" width="11" height="13.5" fill="#ff7878"/>
<rect x="665" y="252.5" width="11" height="14.5" fill="#ff1414"/>
<rect x="665" y="269.0" width="11" height="14.5" fill="#ff6400"/>
<rect x="665" y="285.5" width="11" height="3.5" fill="#ff9600"/>
<rect x="665" y="291.0" width="11" height="3.7" fill="#ffc800"/>
<rect x="665" y="296.7" width="11" height="3.3" fill="#f0ff00"/>
<rect x="665" y="302.0" width="11" height="3.8" fill="#00fa50"/>
<rect x="665" y="307.8" width="11" height="3.2" fill="#00f0ff"/>
<rect x="665" y="313.0" width="11" height="3.5" fill="#0032ff"/>
<rect x="665" y="318.5" width="11" height="14.0" fill="#0000aa"/>
<rect x="665" y="334.5" width="11" height="14.5" fill="#7800aa"/>
<rect x="665" y="351.0" width="11" height="13.7" fill="#b400aa"/>
<rect x="665" y="366.7" width="11" height="24.3" fill="#e600aa"/>
</svg>
<svg width="904" height="654" viewBox="0 0 904 654" style="position:absolute;left:0;top:0" shape-rendering="crispEdges" fill="none" stroke="#000" stroke-linecap="round" stroke-linejoin="round">
<path stroke-width="2.00" d="M363.02 70.57 L352.50 83.50 M352.50 70.57 L363.02 70.57 M352.50 83.50 L363.02 83.50 M373.55 70.57 L371.63 71.49 L369.72 73.34 L368.76 76.11 L368.76 77.96 L369.72 80.73 L371.63 82.58 L373.55 83.50 L376.42 83.50 L378.33 82.58 L380.25 80.73 L381.20 77.96 L381.20 76.11 L380.25 73.34 L378.33 71.49 L376.42 70.57 L373.55 70.57 M387.90 70.57 L387.90 83.50 M387.90 74.26 L390.77 71.49 L392.68 70.57 L395.55 70.57 L397.47 71.49 L398.42 74.26 L398.42 83.50 M416.60 70.57 L416.60 83.50 M416.60 73.34 L414.69 71.49 L412.77 70.57 L409.90 70.57 L407.99 71.49 L406.08 73.34 L405.12 76.11 L405.12 77.96 L406.08 80.73 L407.99 82.58 L409.90 83.50 L412.77 83.50 L414.69 82.58 L416.60 80.73 M424.25 64.10 L424.25 83.50 M445.30 70.57 L451.04 83.50 M456.78 70.57 L451.04 83.50 M461.57 76.11 L473.05 76.11 L473.05 74.26 L472.09 72.41 L471.13 71.49 L469.22 70.57 L466.35 70.57 L464.44 71.49 L462.52 73.34 L461.57 76.11 L461.57 77.96 L462.52 80.73 L464.44 82.58 L466.35 83.50 L469.22 83.50 L471.13 82.58 L473.05 80.73 M479.75 64.10 L479.75 83.50 M491.23 70.57 L489.31 71.49 L487.40 73.34 L486.44 76.11 L486.44 77.96 L487.40 80.73 L489.31 82.58 L491.23 83.50 L494.10 83.50 L496.01 82.58 L497.92 80.73 L498.88 77.96 L498.88 76.11 L497.92 73.34 L496.01 71.49 L494.10 70.57 L491.23 70.57 M516.10 73.34 L514.19 71.49 L512.27 70.57 L509.40 70.57 L507.49 71.49 L505.58 73.34 L504.62 76.11 L504.62 77.96 L505.58 80.73 L507.49 82.58 L509.40 83.50 L512.27 83.50 L514.19 82.58 L516.10 80.73 M521.84 64.10 L522.80 65.02 L523.75 64.10 L522.80 63.18 L521.84 64.10 M522.80 70.57 L522.80 83.50 M531.41 64.10 L531.41 79.80 L532.37 82.58 L534.28 83.50 L536.19 83.50 M528.54 70.57 L535.24 70.57 M540.02 70.57 L545.76 83.50 M551.50 70.57 L545.76 83.50 L543.85 87.20 L541.93 89.04 L540.02 89.97 L539.06 89.97"/>
<path stroke-width="2.00" d="M169.91 95.56 L168.77 96.37 L167.62 97.58 L166.47 99.19 L165.90 101.21 L165.90 102.83 L166.47 104.84 L167.62 106.46 L168.77 107.67 L169.91 108.48 M173.93 107.13 L181.95 98.79 M173.93 98.79 L181.95 107.13 M187.68 98.25 L188.83 97.71 L190.55 96.10 L190.55 107.40 M200.87 96.10 L199.15 96.64 L198.00 98.25 L197.43 100.94 L197.43 102.56 L198.00 105.25 L199.15 106.86 L200.87 107.40 L202.01 107.40 L203.73 106.86 L204.88 105.25 L205.45 102.56 L205.45 100.94 L204.88 98.25 L203.73 96.64 L202.01 96.10 L200.87 96.10 M212.33 96.10 L210.61 96.64 L209.46 98.25 L208.89 100.94 L208.89 102.56 L209.46 105.25 L210.61 106.86 L212.33 107.40 L213.48 107.40 L215.20 106.86 L216.34 105.25 L216.92 102.56 L216.92 100.94 L216.34 98.25 L215.20 96.64 L213.48 96.10 L212.33 96.10 M223.79 96.10 L222.07 96.64 L220.93 98.25 L220.36 100.94 L220.36 102.56 L220.93 105.25 L222.07 106.86 L223.79 107.40 L224.94 107.40 L226.66 106.86 L227.81 105.25 L228.38 102.56 L228.38 100.94 L227.81 98.25 L226.66 96.64 L224.94 96.10 L223.79 96.10 M241.56 99.87 L241.56 107.40 M241.56 102.02 L243.28 100.40 L244.43 99.87 L246.15 99.87 L247.30 100.40 L247.87 102.02 L247.87 107.40 M247.87 102.02 L249.59 100.40 L250.74 99.87 L252.46 99.87 L253.60 100.40 L254.17 102.02 L254.17 107.40 M258.19 95.56 L259.33 96.37 L260.48 97.58 L261.63 99.19 L262.20 101.21 L262.20 102.83 L261.63 104.84 L260.48 106.46 L259.33 107.67 L258.19 108.48"/>
<path stroke-width="1.00" d="M657.80 131.50 L657.80 140.24 L658.34 141.79 L659.41 142.30 L660.48 142.30 M656.20 135.10 L659.94 135.10 M663.69 136.13 L673.32 136.13 M663.69 139.21 L673.32 139.21 M678.67 133.56 L679.74 133.04 L681.34 131.50 L681.34 142.30 M695.25 131.50 L689.90 142.30 M687.76 131.50 L695.25 131.50 M705.95 131.50 L700.60 142.30 M698.46 131.50 L705.95 131.50 M712.37 131.50 L710.76 132.01 L709.69 133.56 L709.16 136.13 L709.16 137.67 L709.69 140.24 L710.76 141.79 L712.37 142.30 L713.44 142.30 L715.04 141.79 L716.11 140.24 L716.65 137.67 L716.65 136.13 L716.11 133.56 L715.04 132.01 L713.44 131.50 L712.37 131.50 M723.07 131.50 L721.46 132.01 L720.39 133.56 L719.86 136.13 L719.86 137.67 L720.39 140.24 L721.46 141.79 L723.07 142.30 L724.14 142.30 L725.74 141.79 L726.81 140.24 L727.35 137.67 L727.35 136.13 L726.81 133.56 L725.74 132.01 L724.14 131.50 L723.07 131.50 M733.77 131.50 L732.16 132.01 L731.09 133.56 L730.56 136.13 L730.56 137.67 L731.09 140.24 L732.16 141.79 L733.77 142.30 L734.84 142.30 L736.44 141.79 L737.51 140.24 L738.05 137.67 L738.05 136.13 L737.51 133.56 L736.44 132.01 L734.84 131.50 L733.77 131.50 M755.70 136.64 L755.17 135.61 L753.56 135.10 L751.96 135.10 L750.35 135.61 L749.82 136.64 L750.35 137.67 L751.42 138.19 L754.10 138.70 L755.17 139.21 L755.70 140.24 L755.70 140.76 L755.17 141.79 L753.56 142.30 L751.96 142.30 L750.35 141.79 L749.82 140.76"/>
<path stroke-width="2.00" d="M374.00 452.30 L384.73 467.50 M384.73 452.30 L374.00 467.50 M390.09 460.99 L403.88 460.99 M418.44 459.54 L416.91 458.09 L415.37 457.37 L413.07 457.37 L411.54 458.09 L410.01 459.54 L409.24 461.71 L409.24 463.16 L410.01 465.33 L411.54 466.78 L413.07 467.50 L415.37 467.50 L416.91 466.78 L418.44 465.33 M426.87 457.37 L425.33 458.09 L423.80 459.54 L423.04 461.71 L423.04 463.16 L423.80 465.33 L425.33 466.78 L426.87 467.50 L429.16 467.50 L430.70 466.78 L432.23 465.33 L433.00 463.16 L433.00 461.71 L432.23 459.54 L430.70 458.09 L429.16 457.37 L426.87 457.37 M441.42 457.37 L439.89 458.09 L438.36 459.54 L437.59 461.71 L437.59 463.16 L438.36 465.33 L439.89 466.78 L441.42 467.50 L443.72 467.50 L445.25 466.78 L446.79 465.33 L447.55 463.16 L447.55 461.71 L446.79 459.54 L445.25 458.09 L443.72 457.37 L441.42 457.37 M452.92 457.37 L452.92 467.50 M452.92 461.71 L453.68 459.54 L455.21 458.09 L456.75 457.37 L459.05 457.37 M471.30 452.30 L471.30 467.50 M471.30 459.54 L469.77 458.09 L468.24 457.37 L465.94 457.37 L464.41 458.09 L462.88 459.54 L462.11 461.71 L462.11 463.16 L462.88 465.33 L464.41 466.78 L465.94 467.50 L468.24 467.50 L469.77 466.78 L471.30 465.33 M476.67 452.30 L477.43 453.02 L478.20 452.30 L477.43 451.58 L476.67 452.30 M477.43 457.37 L477.43 467.50 M483.56 457.37 L483.56 467.50 M483.56 460.26 L485.86 458.09 L487.39 457.37 L489.69 457.37 L491.22 458.09 L491.99 460.26 L491.99 467.50 M506.55 457.37 L506.55 467.50 M506.55 459.54 L505.02 458.09 L503.48 457.37 L501.19 457.37 L499.65 458.09 L498.12 459.54 L497.35 461.71 L497.35 463.16 L498.12 465.33 L499.65 466.78 L501.19 467.50 L503.48 467.50 L505.02 466.78 L506.55 465.33 M513.44 452.30 L513.44 464.60 L514.21 466.78 L515.74 467.50 L517.27 467.50 M511.15 457.37 L516.51 457.37 M521.11 461.71 L530.30 461.71 L530.30 460.26 L529.53 458.81 L528.77 458.09 L527.24 457.37 L524.94 457.37 L523.40 458.09 L521.87 459.54 L521.11 461.71 L521.11 463.16 L521.87 465.33 L523.40 466.78 L524.94 467.50 L527.24 467.50 L528.77 466.78 L530.30 465.33"/>
<path stroke-width="2.00" d="M192.68 327.20 L208.00 337.80 M192.68 337.80 L192.68 327.20 M208.00 337.80 L208.00 327.20 M201.43 321.90 L201.43 308.26 M199.97 293.87 L198.51 295.39 L197.79 296.90 L197.79 299.18 L198.51 300.69 L199.97 302.20 L202.16 302.96 L203.62 302.96 L205.81 302.20 L207.27 300.69 L208.00 299.18 L208.00 296.90 L207.27 295.39 L205.81 293.87 M197.79 285.54 L198.51 287.06 L199.97 288.57 L202.16 289.33 L203.62 289.33 L205.81 288.57 L207.27 287.06 L208.00 285.54 L208.00 283.27 L207.27 281.76 L205.81 280.24 L203.62 279.48 L202.16 279.48 L199.97 280.24 L198.51 281.76 L197.79 283.27 L197.79 285.54 M197.79 271.15 L198.51 272.67 L199.97 274.18 L202.16 274.94 L203.62 274.94 L205.81 274.18 L207.27 272.67 L208.00 271.15 L208.00 268.88 L207.27 267.37 L205.81 265.85 L203.62 265.09 L202.16 265.09 L199.97 265.85 L198.51 267.37 L197.79 268.88 L197.79 271.15 M197.79 259.79 L208.00 259.79 M202.16 259.79 L199.97 259.04 L198.51 257.52 L197.79 256.01 L197.79 253.73 M192.68 241.62 L208.00 241.62 M199.97 241.62 L198.51 243.13 L197.79 244.65 L197.79 246.92 L198.51 248.43 L199.97 249.95 L202.16 250.70 L203.62 250.70 L205.81 249.95 L207.27 248.43 L208.00 246.92 L208.00 244.65 L207.27 243.13 L205.81 241.62 M192.68 236.31 L193.41 235.56 L192.68 234.80 L191.95 235.56 L192.68 236.31 M197.79 235.56 L208.00 235.56 M197.79 229.50 L208.00 229.50 M200.70 229.50 L198.51 227.23 L197.79 225.71 L197.79 223.44 L198.51 221.93 L200.70 221.17 L208.00 221.17 M197.79 206.78 L208.00 206.78 M199.97 206.78 L198.51 208.29 L197.79 209.81 L197.79 212.08 L198.51 213.59 L199.97 215.11 L202.16 215.87 L203.62 215.87 L205.81 215.11 L207.27 213.59 L208.00 212.08 L208.00 209.81 L207.27 208.29 L205.81 206.78 M192.68 199.96 L205.08 199.96 L207.27 199.20 L208.00 197.69 L208.00 196.18 M197.79 202.23 L197.79 196.93 M202.16 192.39 L202.16 183.30 L200.70 183.30 L199.24 184.06 L198.51 184.81 L197.79 186.33 L197.79 188.60 L198.51 190.12 L199.97 191.63 L202.16 192.39 L203.62 192.39 L205.81 191.63 L207.27 190.12 L208.00 188.60 L208.00 186.33 L207.27 184.81 L205.81 183.30"/>
<path stroke-width="2.00" d="M572.28 425.71 L571.11 426.44 L569.95 427.54 L568.78 428.99 L568.20 430.81 L568.20 432.27 L568.78 434.09 L569.95 435.55 L571.11 436.64 L572.28 437.37 M576.35 436.16 L584.50 428.63 M576.35 428.63 L584.50 436.16 M590.33 428.14 L591.49 427.66 L593.24 426.20 L593.24 436.40 M600.81 426.20 L600.81 436.40 M600.81 426.20 L608.38 426.20 M600.81 431.06 L605.47 431.06 M600.81 436.40 L608.38 436.40 M618.28 426.20 L612.46 426.20 L611.87 430.57 L612.46 430.09 L614.20 429.60 L615.95 429.60 L617.70 430.09 L618.86 431.06 L619.44 432.51 L619.44 433.49 L618.86 434.94 L617.70 435.91 L615.95 436.40 L614.20 436.40 L612.46 435.91 L611.87 435.43 L611.29 434.46 M632.84 429.60 L632.84 436.40 M632.84 431.54 L634.58 430.09 L635.75 429.60 L637.50 429.60 L638.66 430.09 L639.24 431.54 L639.24 436.40 M639.24 431.54 L640.99 430.09 L642.15 429.60 L643.90 429.60 L645.07 430.09 L645.65 431.54 L645.65 436.40 M649.72 425.71 L650.89 426.44 L652.05 427.54 L653.22 428.99 L653.80 430.81 L653.80 432.27 L653.22 434.09 L652.05 435.55 L650.89 436.64 L649.72 437.37"/>
<path stroke-width="2.00" d="M241.30 341.00 L235.70 349.00 L244.10 349.00 M241.30 341.00 L241.30 353.00"/>
<path stroke-width="2.00" d="M239.06 295.00 L237.38 295.57 L236.82 296.71 L236.82 297.86 L237.38 299.00 L238.50 299.57 L240.74 300.14 L242.42 300.71 L243.54 301.86 L244.10 303.00 L244.10 304.71 L243.54 305.86 L242.98 306.43 L241.30 307.00 L239.06 307.00 L237.38 306.43 L236.82 305.86 L236.26 304.71 L236.26 303.00 L236.82 301.86 L237.94 300.71 L239.62 300.14 L241.86 299.57 L242.98 299.00 L243.54 297.86 L243.54 296.71 L242.98 295.57 L241.30 295.00 L239.06 295.00"/>
<path stroke-width="2.00" d="M226.74 251.29 L227.86 250.71 L229.54 249.00 L229.54 261.00 M236.82 251.86 L236.82 251.29 L237.38 250.14 L237.94 249.57 L239.06 249.00 L241.30 249.00 L242.42 249.57 L242.98 250.14 L243.54 251.29 L243.54 252.43 L242.98 253.57 L241.86 255.29 L236.26 261.00 L244.10 261.00"/>
<path stroke-width="2.00" d="M226.74 205.29 L227.86 204.71 L229.54 203.00 L229.54 215.00 M243.54 204.71 L242.98 203.57 L241.30 203.00 L240.18 203.00 L238.50 203.57 L237.38 205.29 L236.82 208.14 L236.82 211.00 L237.38 213.29 L238.50 214.43 L240.18 215.00 L240.74 215.00 L242.42 214.43 L243.54 213.29 L244.10 211.57 L244.10 211.00 L243.54 209.29 L242.42 208.14 L240.74 207.57 L240.18 207.57 L238.50 208.14 L237.38 209.29 L236.82 211.00"/>
<path stroke-width="2.00" d="M225.62 159.86 L225.62 159.29 L226.18 158.14 L226.74 157.57 L227.86 157.00 L230.10 157.00 L231.22 157.57 L231.78 158.14 L232.34 159.29 L232.34 160.43 L231.78 161.57 L230.66 163.29 L225.06 169.00 L232.90 169.00 M239.62 157.00 L237.94 157.57 L236.82 159.29 L236.26 162.14 L236.26 163.86 L236.82 166.71 L237.94 168.43 L239.62 169.00 L240.74 169.00 L242.42 168.43 L243.54 166.71 L244.10 163.86 L244.10 162.14 L243.54 159.29 L242.42 157.57 L240.74 157.00 L239.62 157.00"/>
<path stroke-width="2.00" d="M330.90 404.67 L332.02 404.13 L333.70 402.50 L333.70 413.90"/>
<path stroke-width="2.00" d="M405.64 405.21 L405.64 404.67 L406.20 403.59 L406.76 403.04 L407.88 402.50 L410.12 402.50 L411.24 403.04 L411.80 403.59 L412.36 404.67 L412.36 405.76 L411.80 406.84 L410.68 408.47 L405.08 413.90 L412.92 413.90"/>
<path stroke-width="2.00" d="M482.90 402.50 L489.06 402.50 L485.70 406.84 L487.38 406.84 L488.50 407.39 L489.06 407.93 L489.62 409.56 L489.62 410.64 L489.06 412.27 L487.94 413.36 L486.26 413.90 L484.58 413.90 L482.90 413.36 L482.34 412.81 L481.78 411.73"/>
<path stroke-width="2.00" d="M563.80 402.50 L558.20 410.10 L566.60 410.10 M563.80 402.50 L563.80 413.90"/>
<path stroke-width="2.00" d="M641.90 402.50 L636.30 402.50 L635.74 407.39 L636.30 406.84 L637.98 406.30 L639.66 406.30 L641.34 406.84 L642.46 407.93 L643.02 409.56 L643.02 410.64 L642.46 412.27 L641.34 413.36 L639.66 413.90 L637.98 413.90 L636.30 413.36 L635.74 412.81 L635.18 411.73"/>
<path stroke-width="2.00" d="M688.80 214.93 L689.92 214.40 L691.60 212.80 L691.60 224.00 M705.04 212.80 L699.44 212.80 L698.88 217.60 L699.44 217.07 L701.12 216.53 L702.80 216.53 L704.48 217.07 L705.60 218.13 L706.16 219.73 L706.16 220.80 L705.60 222.40 L704.48 223.47 L702.80 224.00 L701.12 224.00 L699.44 223.47 L698.88 222.93 L698.32 221.87"/>
<path stroke-width="2.00" d="M694.62 263.40 L694.06 262.33 L692.38 261.80 L691.26 261.80 L689.58 262.33 L688.46 263.93 L687.90 266.60 L687.90 269.27 L688.46 271.40 L689.58 272.47 L691.26 273.00 L691.82 273.00 L693.50 272.47 L694.62 271.40 L695.18 269.80 L695.18 269.27 L694.62 267.67 L693.50 266.60 L691.82 266.07 L691.26 266.07 L689.58 266.60 L688.46 267.67 L687.90 269.27"/>
<path stroke-width="2.00" d="M690.00 292.03 L691.12 291.50 L692.80 289.90 L692.80 301.10"/>
<path stroke-width="2.00" d="M687.80 312.60 L697.88 312.60 M702.36 308.87 L702.36 308.33 L702.92 307.27 L703.48 306.73 L704.60 306.20 L706.84 306.20 L707.96 306.73 L708.52 307.27 L709.08 308.33 L709.08 309.40 L708.52 310.47 L707.40 312.07 L701.80 317.40 L709.64 317.40"/>
<path stroke-width="2.00" d="M687.80 350.60 L697.88 350.60 M709.08 347.93 L708.52 349.53 L707.40 350.60 L705.72 351.13 L705.16 351.13 L703.48 350.60 L702.36 349.53 L701.80 347.93 L701.80 347.40 L702.36 345.80 L703.48 344.73 L705.16 344.20 L705.72 344.20 L707.40 344.73 L708.52 345.80 L709.08 347.93 L709.08 350.60 L708.52 353.27 L707.40 354.87 L705.72 355.40 L704.60 355.40 L702.92 354.87 L702.36 353.80"/>
</svg>
</body></html>
